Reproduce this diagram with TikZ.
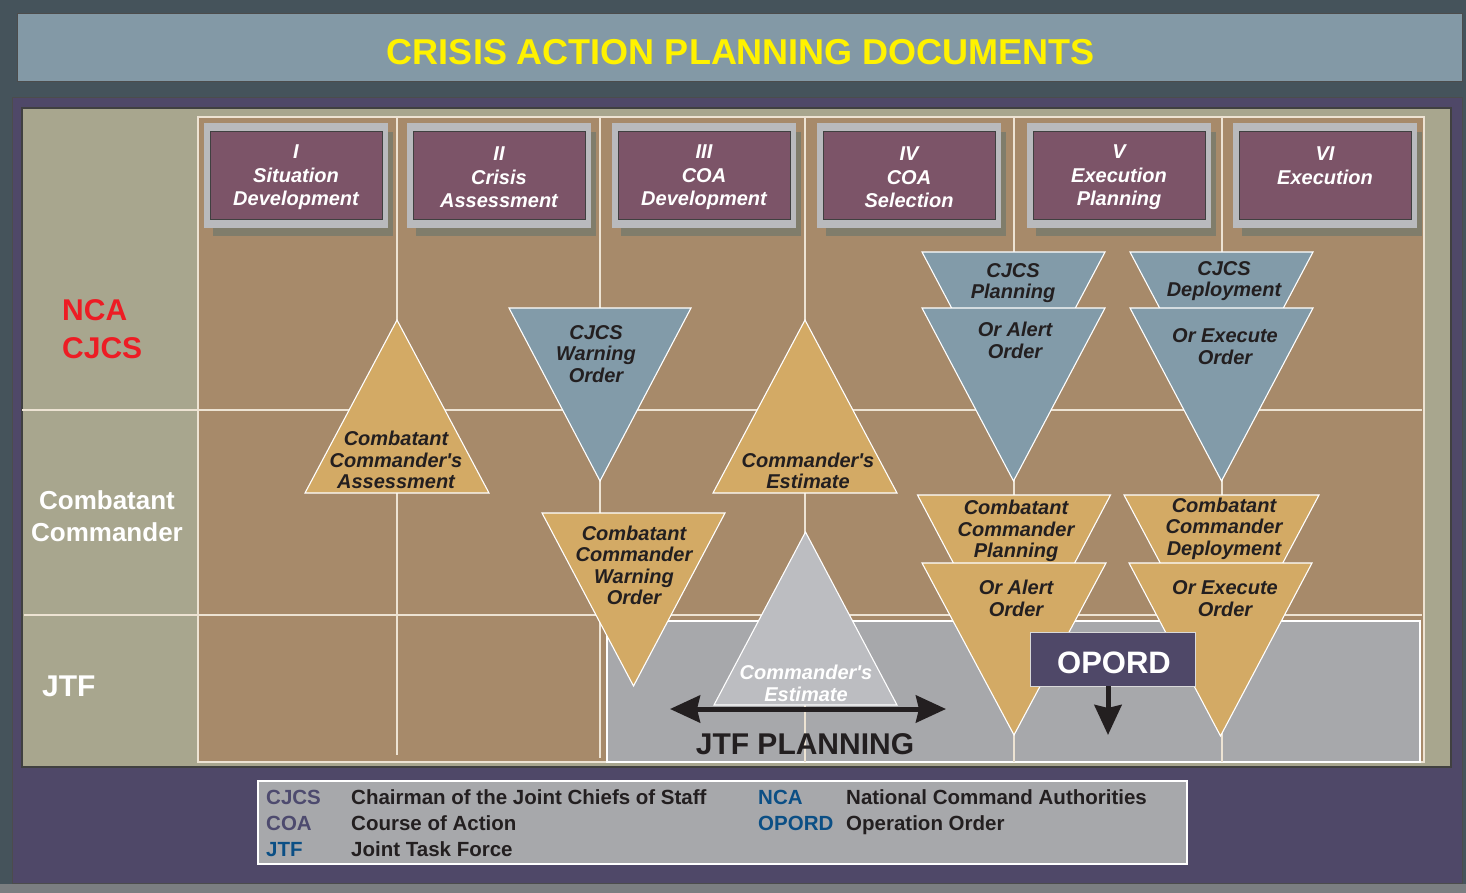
\documentclass[tikz,border=0pt]{standalone}
\usepackage{fontspec}
\setmainfont{Liberation Sans}
\usetikzlibrary{arrows.meta}
\definecolor{outerbg}{HTML}{45535B}
\definecolor{outeredge}{HTML}{7B7E81}
\definecolor{titlebg}{HTML}{8399A6}
\definecolor{titleyel}{HTML}{FFF200}
\definecolor{panelpur}{HTML}{4F4868}
\definecolor{khaki}{HTML}{A8A68E}
\definecolor{brownbg}{HTML}{A78A6A}
\definecolor{gridcol}{HTML}{EDE3D3}
\definecolor{jtfgray}{HTML}{A7A8AB}
\definecolor{hframe}{HTML}{B9BABD}
\definecolor{hshadow}{HTML}{807D6B}
\definecolor{hpurple}{HTML}{7C5468}
\definecolor{tan}{HTML}{D3AA65}
\definecolor{bluegray}{HTML}{829BA9}
\definecolor{lightgray}{HTML}{BCBDC1}
\definecolor{ncared}{HTML}{ED1C24}
\definecolor{txtdark}{HTML}{231F20}
\definecolor{legpur}{HTML}{4D4A6E}
\definecolor{legblue}{HTML}{0B4F85}
\newcommand\HdrBox[4]{%
  \fill[hshadow] (#2+9,132) rectangle (#2+189,236);
  \fill[hframe] (#2,123) rectangle (#2+184,228);
  \draw[fill=hpurple, draw=black!75, line width=0.8pt] (#2+6,131) rectangle (#2+178,219);
  \node[hdrtext] (#1) at (#2+92,#4) {#3};
}
\newcommand\TriUp[5]{%
  \filldraw[tri, fill=#5] (#1,#2) -- (#1+#4,#3) -- (#1-#4,#3) -- cycle;
}
\newcommand\TriDown[5]{%
  \filldraw[tri, fill=#5] (#1-#4,#2) -- (#1+#4,#2) -- (#1,#3) -- cycle;
}
\newcommand\apos{\textquotesingle}
\begin{document}
\begin{tikzpicture}[x=1pt,y=-1pt,
  tri/.style={draw=white, line width=1.1pt, line join=miter},
  tritext/.style={text=txtdark, font=\bfseries\itshape\fontsize{20}{21.5}\selectfont, align=center, inner sep=0pt},
  hdrtext/.style={text=white, font=\bfseries\itshape\fontsize{20}{23.5}\selectfont, align=center, inner sep=0pt},
  gridline/.style={draw=gridcol, line width=1.3pt},
  legabbr/.style={anchor=base west, font=\bfseries\fontsize{20.5}{24}\selectfont, inner sep=0pt},
  legdef/.style={legabbr, text=txtdark},
  bigarrow/.style={draw=txtdark, line width=5pt, -{Stealth[length=30pt,width=27pt,inset=3pt]}},
  dblarrow/.style={draw=txtdark, line width=5pt, {Stealth[length=30pt,width=27pt,inset=3pt]}-{Stealth[length=30pt,width=27pt,inset=3pt]}},
]
\useasboundingbox (0,0) rectangle (1466,893);
% background
\fill[outerbg] (0,0) rectangle (1466,893);
\fill[outeredge] (0,884) rectangle (1466,893);
% title
\draw[fill=titlebg, draw=black!70, line width=1pt] (17,14) rectangle (1462,82);
\node[text=titleyel, font=\bfseries\fontsize{36}{40}\selectfont, inner sep=0pt] (title) at (741,52) {CRISIS ACTION PLANNING DOCUMENTS};
% panels
\draw[fill=panelpur, draw=black!70, line width=1pt] (12,98) rectangle (1462,883);
\draw[fill=khaki, draw=black!75, line width=1.5pt] (22,108) rectangle (1451,767);
\draw[fill=brownbg, draw=gridcol, line width=1.2pt] (198,117) rectangle (1424,762);
% grid lines
\draw[gridline] (22,410) -- (1422,410);
\draw[gridline] (24,615) -- (1422,615);
\draw[fill=jtfgray, draw=white, line width=1.2pt] (607,621) rectangle (1420,762);
\draw[gridline] (397,117) -- (397,755);
\draw[gridline] (600,117) -- (600,758);
\draw[gridline] (805,117) -- (805,762);
\draw[gridline] (1014,117) -- (1014,762);
\draw[gridline] (1222,117) -- (1222,762);
% headers
\HdrBox{h1}{204}{I\\Situation\\Development}{177.5}
\HdrBox{h2}{407}{II\\Crisis\\Assessment}{177.5}
\HdrBox{h3}{612}{III\\COA\\Development}{177.5}
\HdrBox{h4}{817}{IV\\COA\\Selection}{177.5}
\HdrBox{h5}{1027}{V\\Execution\\Planning}{177.5}
\HdrBox{h6}{1233}{VI\\Execution}{165.5}
% triangles
\TriUp{397}{320}{493}{92}{tan}
\node[tritext] (t1) at (396,460) {Combatant\\Commander\apos s\\Assessment};
\TriDown{600}{308}{481}{91}{bluegray}
\node[tritext] (t2) at (596,354) {CJCS\\Warning\\Order};
\TriUp{805}{320}{493}{92}{tan}
\node[tritext] (t3) at (808,471) {Commander\apos s\\Estimate};
\TriDown{1013.5}{252}{425}{91.5}{bluegray}
\node[tritext] (t4a) at (1013,283) {CJCS\\Planning};
\TriDown{1013.5}{308}{481}{91.5}{bluegray}
\node[tritext] (t4b) at (1015,340.5) {Or Alert\\Order};
\TriDown{1221.5}{252}{425}{91.5}{bluegray}
\node[tritext] (t5a) at (1224,281) {CJCS\\Deployment};
\TriDown{1221.5}{308}{481}{91.5}{bluegray}
\node[tritext] (t5b) at (1225,346.5) {Or Execute\\Order};
\TriDown{633.5}{513}{686}{91.5}{tan}
\node[tritext] (t6) at (634,565.5) {Combatant\\Commander\\Warning\\Order};
\TriUp{805.5}{532}{705}{91.5}{lightgray}
\node[tritext, text=white] (t7) at (806,683.5) {Commander\apos s\\Estimate};
\TriDown{1014}{495}{678}{96.5}{tan}
\node[tritext] (t8a) at (1016,531) {Combatant\\Commander\\Planning};
\TriDown{1014}{563}{735}{92}{tan}
\node[tritext] (t8b) at (1016,598.5) {Or Alert\\Order};
\TriDown{1221.5}{495}{678}{97.5}{tan}
\node[tritext] (t9a) at (1224,528.5) {Combatant\\Commander\\Deployment};
\TriDown{1220.5}{563}{736}{91.5}{tan}
\node[tritext] (t9b) at (1225,598.5) {Or Execute\\Order};
% OPORD
\node[draw=white!85!black, line width=0.8pt, fill=panelpur, minimum width=165pt, minimum height=54pt, inner sep=0pt] (opord) at (1112.5,659) {};
\node[text=white, font=\bfseries\fontsize{31}{34}\selectfont, inner sep=0pt] (opordtxt) at (1114,663) {OPORD};
\coordinate (opArr) at (1108,735);
\draw[bigarrow] (opord.south -| opArr) -- (opArr);
% JTF planning arrow
\coordinate (arL) at (670,709);
\coordinate (arR) at (946,709);
\draw[dblarrow] (arL) -- (arR);
\node[text=txtdark, font=\bfseries\fontsize{30}{34}\selectfont, inner sep=0pt] (jtfplan) at (805,744) {JTF PLANNING};
% row labels
\node[anchor=west, align=left, text=ncared, font=\bfseries\fontsize{30}{38}\selectfont, inner sep=0pt] (nca) at (62,329) {NCA\\CJCS};
\node[align=center, text=white, font=\bfseries\fontsize{26}{32}\selectfont, inner sep=0pt] (cc) at (107,516) {Combatant\\Commander};
\node[anchor=west, text=white, font=\bfseries\fontsize{30}{34}\selectfont, inner sep=0pt] (jtf) at (42,686) {JTF};
% legend
\draw[fill=jtfgray, draw=white, line width=1.2pt] (258,781) rectangle (1187,864);
\node[legabbr, text=legpur] (la1) at (266,804) {CJCS};
\node[legdef] (ld1) at (351,804) {Chairman of the Joint Chiefs of Staff};
\node[legabbr, text=legpur] (la2) at (266,830) {COA};
\node[legdef] (ld2) at (351,830) {Course of Action};
\node[legabbr, text=legblue] (la3) at (266,856) {JTF};
\node[legdef] (ld3) at (351,856) {Joint Task Force};
\node[legabbr, text=legblue] (la4) at (758,804) {NCA};
\node[legdef] (ld4) at (846,804) {National Command Authorities};
\node[legabbr, text=legblue] (la5) at (758,830) {OPORD};
\node[legdef] (ld5) at (846,830) {Operation Order};
\end{tikzpicture}
\end{document}
